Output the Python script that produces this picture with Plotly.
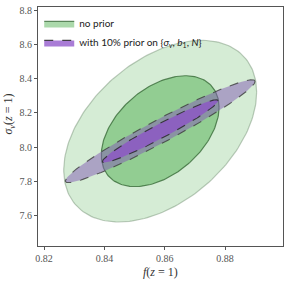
import numpy as np
import plotly.graph_objects as go

# Fisher-forecast ellipse parameters
center_f = 0.8585
center_sv = 8.093
green_sigma_f = 0.01287
green_sigma_sv = 0.2149
green_rho = 0.43
purple_sigma_f = 0.01266
purple_sigma_sv = 0.1218
purple_rho = 0.967
chi2_levels = [6.17, 2.30]  # 2-sigma, 1-sigma for 2 parameters

x_ticks = [0.82, 0.84, 0.86, 0.88]
y_ticks = [7.6, 7.8, 8.0, 8.2, 8.4, 8.6, 8.8]


def ellipse(sf, ss, rho, level, n=200):
    cov = np.array([[sf**2, rho*sf*ss], [rho*sf*ss, ss**2]])
    L = np.linalg.cholesky(cov)
    t = np.linspace(0, 2*np.pi, n)
    pts = np.sqrt(level) * (L @ np.vstack([np.cos(t), np.sin(t)]))
    return center_f + pts[0], center_sv + pts[1]


fig = go.Figure()

# no prior
gx, gy = ellipse(green_sigma_f, green_sigma_sv, green_rho, chi2_levels[0])
fig.add_trace(go.Scatter(x=gx, y=gy, fill="toself", mode="lines",
                         fillcolor="rgba(44,160,44,0.2)",
                         line=dict(color="rgba(110,140,110,0.45)", width=1.2),
                         showlegend=False, hoverinfo="skip"))
gx, gy = ellipse(green_sigma_f, green_sigma_sv, green_rho, chi2_levels[1])
fig.add_trace(go.Scatter(x=gx, y=gy, fill="toself", mode="lines",
                         fillcolor="rgba(44,160,44,0.4)",
                         line=dict(color="rgba(50,100,50,0.75)", width=1.2),
                         name="no prior", hoverinfo="skip"))

# with prior
px, py = ellipse(purple_sigma_f, purple_sigma_sv, purple_rho, chi2_levels[0])
fig.add_trace(go.Scatter(x=px, y=py, fill="toself", mode="lines",
                         fillcolor="rgba(130,90,180,0.5)",
                         line=dict(color="rgba(60,60,60,0.8)", width=1.1, dash="dash"),
                         showlegend=False, hoverinfo="skip"))
px, py = ellipse(purple_sigma_f, purple_sigma_sv, purple_rho, chi2_levels[1])
fig.add_trace(go.Scatter(x=px, y=py, fill="toself", mode="lines",
                         fillcolor="rgba(140,80,200,0.75)",
                         line=dict(color="rgba(40,40,40,0.85)", width=1.1, dash="dash"),
                         name="with 10% prior on {<i>σ<sub>v</sub></i>, <i>b</i><sub>1</sub>, <i>N</i>}",
                         hoverinfo="skip"))

axis_common = dict(showline=True, linecolor="#555", linewidth=1.2, mirror=True,
                   ticks="outside", ticklen=3, tickcolor="#555", showgrid=False,
                   zeroline=False, automargin=False,
                   tickfont=dict(family="Liberation Serif", size=10, color="#555"))

fig.update_layout(
    width=291, height=281,
    margin=dict(l=38, r=8, t=7, b=35),
    plot_bgcolor="white", paper_bgcolor="white",
    xaxis=dict(range=[0.818, 0.8992], tickvals=x_ticks,
               ticktext=[f"{v:.2f}" for v in x_ticks], **axis_common),
    yaxis=dict(range=[7.418, 8.823], tickvals=y_ticks,
               ticktext=[f"{v:.1f}" for v in y_ticks], **axis_common),
    legend=dict(x=0.005, y=0.992, xanchor="left", yanchor="top",
                bgcolor="rgba(255,255,255,0)", borderwidth=0,
                font=dict(family="Lato", size=10, color="#222"),
                itemwidth=30, tracegroupgap=0),
    annotations=[
        dict(text="<i>f</i>(<i>z</i> = 1)", xref="paper", yref="paper",
             x=0.5, y=0, xanchor="center", yanchor="top", yshift=-17,
             showarrow=False,
             font=dict(family="Liberation Serif", size=12, color="#333")),
        dict(text="<i>σ<sub>v</sub></i>(<i>z</i> = 1)", xref="paper", yref="paper",
             x=0, y=0.55, xanchor="center", yanchor="middle", xshift=-29,
             textangle=-90, showarrow=False,
             font=dict(family="Liberation Serif", size=12, color="#333")),
    ],
)

fig.write_html("out.html", config={"displayModeBar": False},
               post_script="document.body.style.margin='0';document.body.style.overflow='hidden';")
